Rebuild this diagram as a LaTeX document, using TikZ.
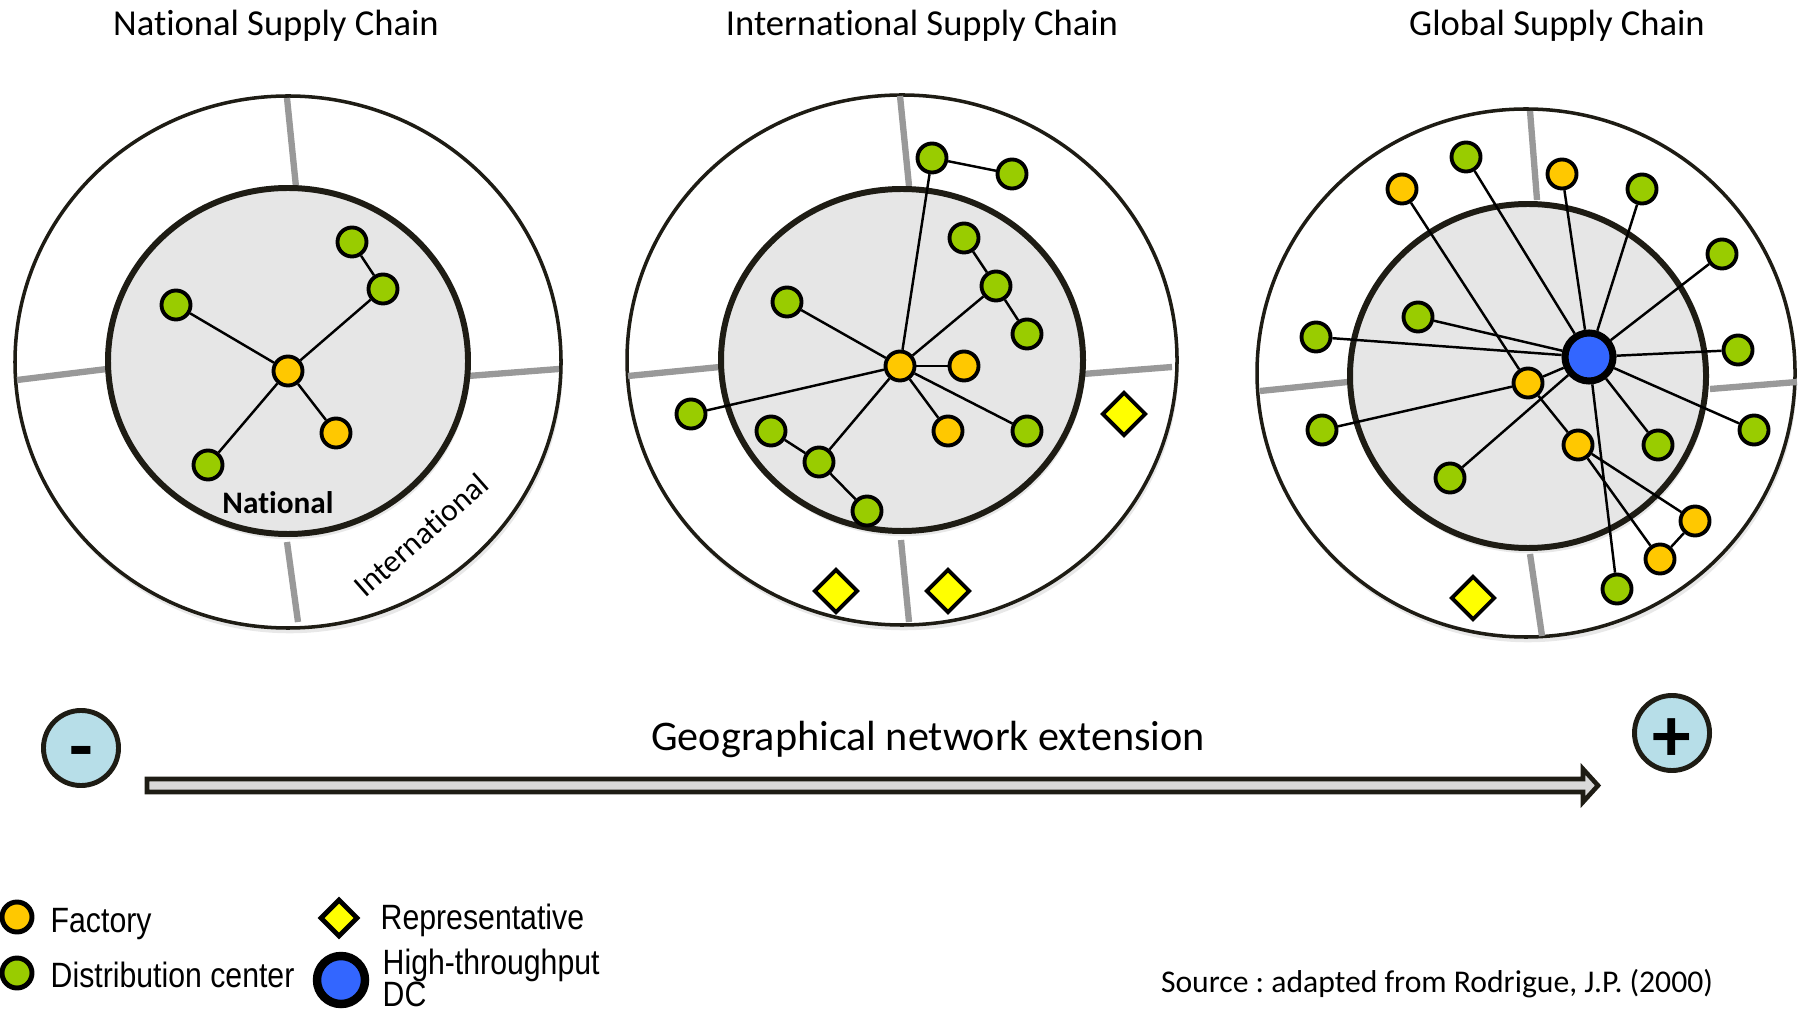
\documentclass[tikz,border=0pt]{standalone}
\usepackage{fontspec}
\setmainfont[Ligatures={NoCommon}]{Carlito}
\newfontfamily\keyfont[FakeStretch=0.86]{Liberation Sans}
\usetikzlibrary{shapes.geometric,shadows}
\definecolor{facorange}{HTML}{FFC800}
\definecolor{dcgreen}{HTML}{99CC00}
\definecolor{hubblue}{HTML}{3366FF}
\definecolor{repyellow}{HTML}{FFFF00}
\definecolor{zonegray}{HTML}{E6E6E6}
\definecolor{bordergray}{HTML}{999999}
\definecolor{signblue}{HTML}{B7DEE8}
\definecolor{ink}{HTML}{1E1C14}
\frenchspacing

\begin{document}
\begin{tikzpicture}[x=0.01cm,y=-0.01cm,
  site/.style={circle,draw=black,line width=1.1pt,minimum size=0.29cm,inner sep=0pt},
  fac/.style={site,fill=facorange},
  dc/.style={site,fill=dcgreen},
  hub/.style={circle,draw=black,line width=2pt,fill=hubblue,minimum size=0.48cm,inner sep=0pt},
  rep/.style={diamond,draw=black,line width=1.1pt,fill=repyellow,minimum width=0.44cm,minimum height=0.44cm,inner sep=0pt},
  link/.style={line width=0.7pt},
  ringout/.style={draw=ink,line width=1pt,fill=white,drop shadow={opacity=0.18,shadow xshift=0.5pt,shadow yshift=-1.5pt}},
  ringin/.style={draw=ink,line width=1.7pt,fill=zonegray,drop shadow={opacity=0.18,shadow xshift=0.5pt,shadow yshift=-1.5pt}},
  divider/.style={draw=bordergray,line width=1.8pt},
  sign/.style={circle,draw=ink,line width=1.4pt,fill=signblue,minimum size=0.75cm,inner sep=0pt,font=\fontsize{22}{22}\selectfont\bfseries},
  heading/.style={font=\fontsize{10.4}{12}\selectfont,anchor=base},
  keytext/.style={font=\keyfont\fontsize{10}{9.2}\selectfont,anchor=base west,inner sep=0pt}]
  \useasboundingbox (0,0) rectangle (1798,1013);

  \path[ringout] (288,362) ellipse [x radius=273,y radius=266];
  \path[ringout] (902,360) ellipse [x radius=275,y radius=265];
  \path[ringout] (1526,373) ellipse [x radius=269,y radius=264];
  \draw[divider] (287,98) -- (296,187) (17,380) -- (107,369) (468,376) -- (559,369) (287,542) -- (298,622);
  \draw[divider] (900,96) -- (909,186) (628,376) -- (720,367) (1083,374) -- (1172,367) (901,540) -- (909,622);
  \draw[divider] (1530,111) -- (1537,200) (1260,391) -- (1348,382) (1710,389) -- (1797,382) (1530,554) -- (1542,636);
  \path[ringin] (288,361) ellipse [x radius=180,y radius=173];
  \path[ringin] (902,360) ellipse [x radius=181,y radius=171];
  \path[ringin] (1528,376) ellipse [x radius=178,y radius=172];

  \node[heading] (t1) at (276,36) {National Supply Chain};
  \node[heading] (t2) at (922,36) {International Supply Chain};
  \node[heading] (t3) at (1557,36) {Global Supply Chain};
  \node[font=\fontsize{8.9}{10}\selectfont\bfseries,anchor=base] (nat) at (278,514) {National};
  \node[font=\fontsize{9}{10}\selectfont,rotate=41.4] (intl) at (421,535) {International};

  \node[fac] (na0) at (288,371) {};
  \node[dc] (na1) at (352,242) {};
  \node[dc] (na2) at (383,289) {};
  \node[dc] (na3) at (176,305) {};
  \node[fac] (na4) at (336,433) {};
  \node[dc] (na5) at (208,465) {};
  \foreach \a/\b in {na0/na3,na0/na2,na2/na1,na0/na4,na0/na5}
    \draw[link] (\a) -- (\b);

  \node[fac] (in0) at (900,366) {};
  \node[dc] (in1) at (932,158) {};
  \node[dc] (in2) at (1012,174) {};
  \node[dc] (in3) at (964,238) {};
  \node[dc] (in4) at (996,286) {};
  \node[dc] (in5) at (1027,334) {};
  \node[dc] (in6) at (787,302) {};
  \node[fac] (in7) at (964,366) {};
  \node[fac] (in8) at (948,431) {};
  \node[dc] (in9) at (1027,431) {};
  \node[dc] (in10) at (691,414) {};
  \node[dc] (in11) at (771,431) {};
  \node[dc] (in12) at (819,462) {};
  \node[dc] (in13) at (867,511) {};
  \node[rep] (ir1) at (1124,414) {};
  \node[rep] (ir2) at (836,591) {};
  \node[rep] (ir3) at (948,591) {};
  \foreach \a/\b in {in0/in1,in1/in2,in0/in4,in3/in4,in4/in5,in0/in6,in0/in7,in0/in8,in0/in9,in0/in10,in0/in12,in11/in12,in12/in13}
    \draw[link] (\a) -- (\b);

  \node[hub] (hub) at (1589,357) {};
  \node[fac] (gl1) at (1402,189) {};
  \node[dc] (gl2) at (1466,157) {};
  \node[fac] (gl3) at (1562,174) {};
  \node[dc] (gl4) at (1642,189) {};
  \node[dc] (gl5) at (1722,254) {};
  \node[dc] (gl6) at (1418,317) {};
  \node[dc] (gl7) at (1316,337) {};
  \node[dc] (gl8) at (1738,350) {};
  \node[fac] (gl9) at (1528,383) {};
  \node[dc] (gl10) at (1322,430) {};
  \node[fac] (gl11) at (1578,445) {};
  \node[dc] (gl12) at (1658,445) {};
  \node[dc] (gl13) at (1754,430) {};
  \node[dc] (gl14) at (1450,478) {};
  \node[fac] (gl15) at (1695,521) {};
  \node[fac] (gl16) at (1660,559) {};
  \node[dc] (gl17) at (1617,589) {};
  \node[rep] (gr1) at (1473,598) {};
  \foreach \b in {gl2,gl3,gl4,gl5,gl6,gl7,gl8,gl9,gl12,gl13,gl14,gl17}
    \draw[link] (hub) -- (\b);
  \foreach \a/\b in {gl1/gl9,gl10/gl9,gl9/gl11,gl11/gl15,gl11/gl16,gl15/gl16}
    \draw[link] (\a) -- (\b);

  \node[sign] (less) at (81,748) {\raisebox{-7pt}[0pt][0pt]{-}};
  \node[sign] (more) at (1672,733) {\raisebox{-8pt}[0pt][0pt]{+}};
  \draw[draw=ink,line width=1.3pt,fill=gray!30] (147,779) -- (1583,779) -- (1583,769) -- (1598,785.5) -- (1583,802) -- (1583,792) -- (147,792) -- cycle;
  \node[font=\fontsize{12}{14}\selectfont,anchor=base] (ext) at (928,750) {Geographical network extension};

  \node[fac,line width=1.4pt,minimum size=0.30cm] (kf) at (17,917) {};
  \node[dc,line width=1.4pt,minimum size=0.30cm] (kd) at (17,973) {};
  \node[rep,line width=1.4pt,minimum width=0.38cm,minimum height=0.38cm] (kr) at (339,918) {};
  \node[hub,line width=2.4pt] (kh) at (341,980) {};
  \node[keytext] (kft) at (50,932) {Factory};
  \node[keytext] (kdt) at (50,987) {Distribution center};
  \node[keytext] (krt) at (380,929) {Representative};
  \node[keytext,align=left,anchor=west] (kht) at (382,978) {High-throughput\\DC};
  \node[font=\fontsize{9}{11}\selectfont,anchor=base] (src) at (1437,992) {Source : adapted from Rodrigue, J.P. (2000)};
\end{tikzpicture}
\end{document}
